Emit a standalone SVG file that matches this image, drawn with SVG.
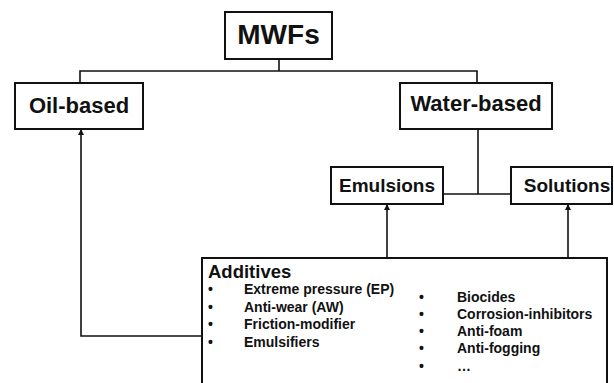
<svg xmlns="http://www.w3.org/2000/svg" width="614" height="383" viewBox="0 0 614 383">
<style>
.box{fill:#fff;stroke:#111;stroke-width:2}
.t{font-family:"Liberation Sans",Arial,sans-serif;font-weight:bold;fill:#111}
.c{fill:none;stroke:#111;stroke-width:1.6}
</style>
<defs>
<marker id="ah" markerWidth="6" markerHeight="6" refX="5" refY="3" orient="auto" markerUnits="userSpaceOnUse">
<path d="M0,0 L6,3 L0,6 Z" fill="#111"/>
</marker>
</defs>
<rect width="614" height="383" fill="#fff"/>
<g id="connectors">
<path class="c" d="M279,59 V71"/>
<path class="c" d="M80,83 V71 H477 V83"/>
<path class="c" d="M478,129 V194"/>
<path class="c" d="M443,194 H511"/>
<path class="c" d="M387,258 V205" marker-end="url(#ah)"/>
<path class="c" d="M568,258 V205" marker-end="url(#ah)"/>
<path class="c" d="M202,336 H81 V130" marker-end="url(#ah)"/>
</g>
<g id="mwfs">
<rect class="box" x="225" y="12" width="107" height="47"/>
<text class="t" x="278.5" y="44" font-size="28" text-anchor="middle">MWFs</text>
</g>
<g id="oil">
<rect class="box" x="15" y="83" width="128" height="46"/>
<text class="t" x="79" y="113" font-size="22" text-anchor="middle">Oil-based</text>
</g>
<g id="water">
<rect class="box" x="400" y="83" width="152" height="46"/>
<text class="t" x="476" y="111" font-size="22" text-anchor="middle">Water-based</text>
</g>
<g id="emulsions">
<rect class="box" x="331" y="167" width="112" height="37"/>
<text class="t" x="387" y="192" font-size="19" text-anchor="middle">Emulsions</text>
</g>
<g id="solutions">
<rect class="box" x="511" y="167" width="101" height="37"/>
<text class="t" x="567" y="192" font-size="19" text-anchor="middle">Solutions</text>
</g>
<g id="additives">
<rect class="box" x="202" y="258" width="405" height="135"/>
<text class="t" x="208" y="277.5" font-size="18.5">Additives</text>
<g class="t" font-size="14">
<text x="208" y="294">•</text><text x="244" y="294">Extreme pressure (EP)</text>
<text x="208" y="311.5">•</text><text x="244" y="311.5">Anti-wear (AW)</text>
<text x="208" y="329">•</text><text x="244" y="329">Friction-modifier</text>
<text x="208" y="346.5">•</text><text x="244" y="346.5">Emulsifiers</text>
<text x="419" y="301.5">•</text><text x="457" y="301.5">Biocides</text>
<text x="419" y="319">•</text><text x="457" y="319">Corrosion-inhibitors</text>
<text x="419" y="336">•</text><text x="457" y="336">Anti-foam</text>
<text x="419" y="353">•</text><text x="457" y="353">Anti-fogging</text>
<text x="419" y="370.5">•</text><text x="457" y="370.5">…</text>
</g>
</g>
</svg>
